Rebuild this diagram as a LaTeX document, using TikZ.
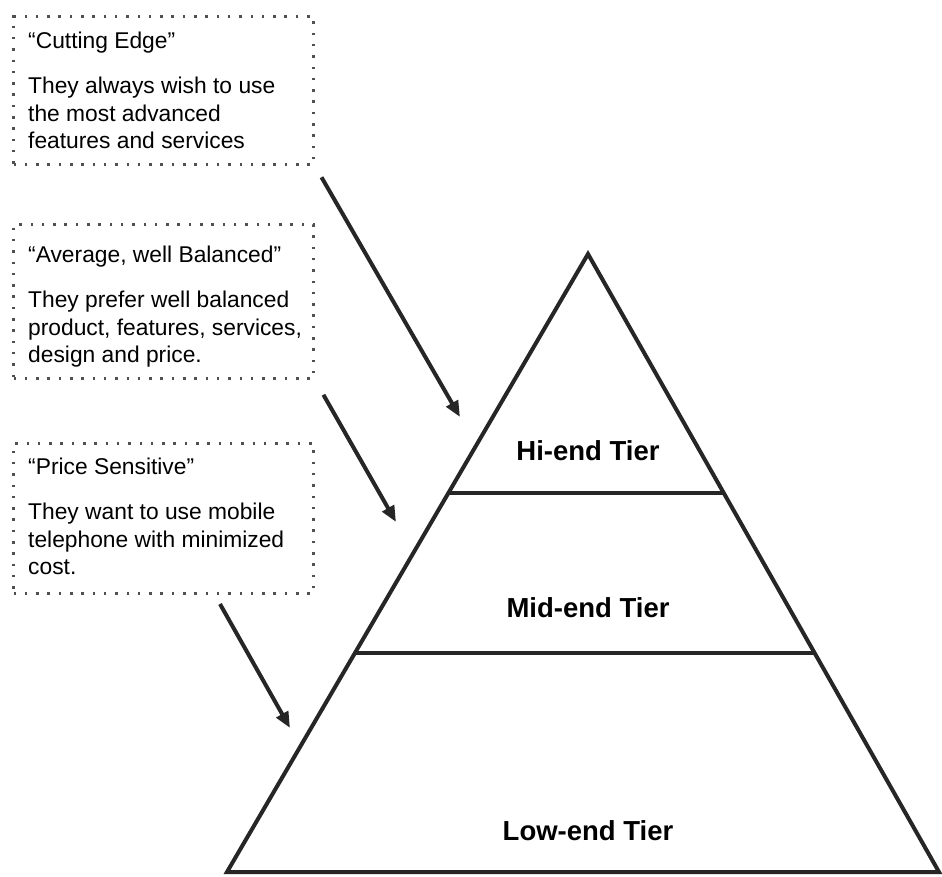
\documentclass[tikz,border=0pt]{standalone}
\usepackage{fontspec}
\setmainfont{Liberation Sans}
\usetikzlibrary{arrows.meta,calc}
\definecolor{ink}{HTML}{262626}
\definecolor{speck}{HTML}{505050}
\tikzset{
  notebox/.style={draw=speck, line width=3pt, dash pattern=on 2.5pt off 8.8pt,
    rectangle, inner sep=0pt, minimum width=300pt, anchor=north west},
  notetext/.style={anchor=base west, inner sep=0pt,
    font=\fontsize{22.8}{27.5}\selectfont},
  tierlabel/.style={anchor=base, inner sep=0pt,
    font=\bfseries\fontsize{27.5}{33}\selectfont},
  edge/.style={draw=ink, line width=4pt},
  pointer/.style={draw=ink, line width=4pt, -{Triangle[length=16pt,width=13pt]}},
}
\newcommand{\notelines}[1]{\parbox[t]{290pt}{\raggedright #1}}
\begin{document}
\begin{tikzpicture}[x=1pt,y=-1pt]
\useasboundingbox (0,0) rectangle (942,876);
\fill[white] (0,0) rectangle (942,876);

% customer groups
\node[notebox, minimum height=148pt] (b1) at (12,15) {};
\node[notetext] (t1) at (28,48) {\notelines{“Cutting Edge”\\[18pt]They always wish to use\\the most advanced\\features and services}};

\node[notebox, minimum height=154pt] (b2) at (12,223) {};
\node[notetext] (t2) at (28,262) {\notelines{“Average, well Balanced”\\[18pt]They prefer well balanced\\product, features, services,\\design and price.}};

\node[notebox, minimum height=150pt] (b3) at (12,442) {};
\node[notetext] (t3) at (28,474) {\notelines{“Price Sensitive”\\[18pt]They want to use mobile\\telephone with minimized\\cost.}};

% pyramid
\coordinate (apex) at (588,254);
\coordinate (bl) at (227,872);
\coordinate (br) at (939,872);
\draw[edge, line join=miter] (apex) -- (bl) -- (br) -- cycle;
\draw[edge] ($(apex)!0.3867!(bl)$) -- ($(apex)!0.3867!(br)$);
\draw[edge] ($(apex)!0.6456!(bl)$) -- ($(apex)!0.6456!(br)$);

\node[tierlabel] (hi) at (588,460) {Hi-end Tier};
\node[tierlabel] (mid) at (588,617) {Mid-end Tier};
\node[tierlabel] (low) at (588,840) {Low-end Tier};

% pointers from groups to tiers
\coordinate (c1) at (460,417);
\coordinate (c2) at (396,522);
\coordinate (c3) at (290,728);
\coordinate (s3) at (220,604);
\draw[pointer, shorten <=13pt] (b1.south east) -- (c1);
\draw[pointer, shorten <=17pt] (b2.south east) -- (c2);
\draw[pointer] (s3) -- (c3);
\end{tikzpicture}
\end{document}
